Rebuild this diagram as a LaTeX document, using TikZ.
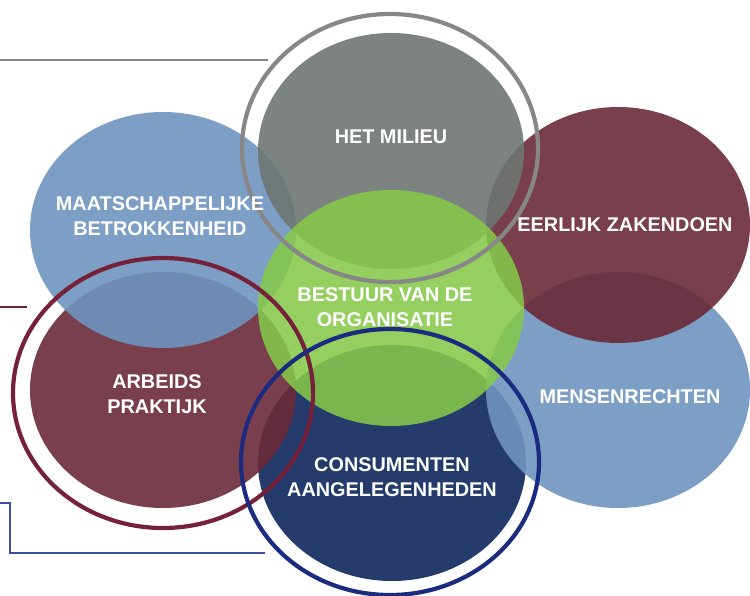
\documentclass[tikz,border=0pt]{standalone}
\usepackage{fontspec}
\setmainfont{Liberation Sans}
\definecolor{blueP}{HTML}{6F93BF}
\definecolor{grayP}{HTML}{6E7673}
\definecolor{maroonP}{HTML}{6B2A38}
\definecolor{greenP}{HTML}{86C84A}
\definecolor{navyP}{HTML}{243B6B}
\definecolor{grayR}{HTML}{878787}
\definecolor{maroonR}{HTML}{76213A}
\definecolor{navyR}{HTML}{1B2C80}
\definecolor{lineB}{HTML}{3B4F9E}
\tikzset{
  petal/.style={fill opacity=0.9},
  ring/.style={line width=2.4pt},
  lbl/.style={text=white, align=center, font=\bfseries\fontsize{11.3}{14.2}\selectfont},
  rule/.style={line width=0.8pt}
}

\begin{document}
\begin{tikzpicture}[x=0.02cm,y=-0.02cm]
  \useasboundingbox (0,0) rectangle (750,595);
  \fill[navyP] (392,463) ellipse [x radius=134, y radius=118];
  \fill[petal,blueP] (618,390) ellipse [x radius=132, y radius=118];
  \fill[petal,maroonP] (618,225) ellipse [x radius=132, y radius=118];
  \fill[petal,maroonP] (163,390) ellipse [x radius=133, y radius=118];
  \fill[petal,blueP] (163,230) ellipse [x radius=133, y radius=118];
  \fill[petal,grayP] (391,151) ellipse [x radius=133, y radius=118];
  \fill[petal,greenP,fill opacity=0.88] (391,308) ellipse [x radius=133, y radius=118];
  \draw[ring,grayR] (390,148) ellipse [x radius=148, y radius=134];
  \draw[ring,maroonR] (163,393) ellipse [x radius=150, y radius=135];
  \draw[ring,navyR] (390,462) ellipse [x radius=149, y radius=133];
  \node[lbl] (m) at (391,137) {HET MILIEU};
  \node[lbl] (mb) at (160,216) {MAATSCHAPPELIJKE\\BETROKKENHEID};
  \node[lbl] (ez) at (625,225) {EERLIJK ZAKENDOEN};
  \node[lbl] (bo) at (385,307) {BESTUUR VAN DE\\ORGANISATIE};
  \node[lbl] (mr) at (630,397) {MENSENRECHTEN};
  \node[lbl] (ap) at (157,394) {ARBEIDS\\PRAKTIJK};
  \node[lbl] (ca) at (392,477) {CONSUMENTEN\\AANGELEGENHEDEN};
  \coordinate (g1) at (0,60);
  \coordinate (g2) at (268,60);
  \coordinate (r1) at (0,307);
  \coordinate (r2) at (27,307);
  \coordinate (b1) at (0,503);
  \coordinate (b2) at (265,553);
  \draw[rule,grayR] (g1) -- (g2);
  \draw[rule,maroonR] (r1) -- (r2);
  \draw[rule,lineB] (b1) -| (10,553) -- (b2);
\end{tikzpicture}
\end{document}
